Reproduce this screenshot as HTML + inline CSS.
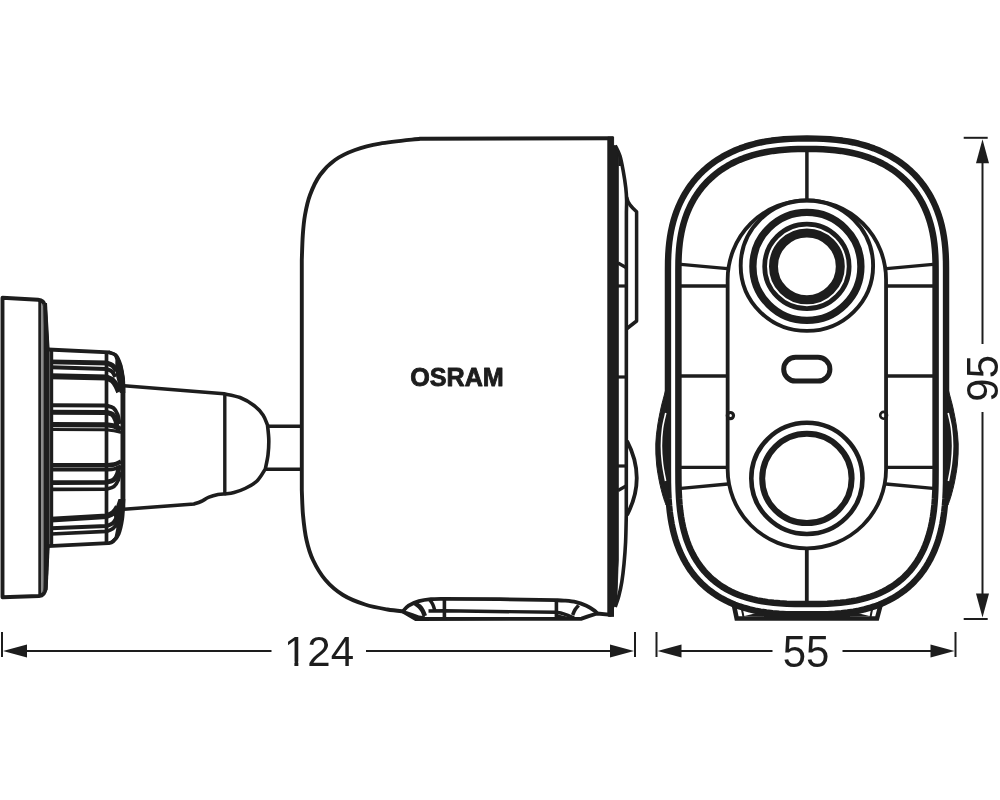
<!DOCTYPE html>
<html><head><meta charset="utf-8"><title>OSRAM camera dimensions</title>
<style>
html,body{margin:0;padding:0;background:#fff;}
body{width:1000px;height:800px;overflow:hidden;font-family:"Liberation Sans",sans-serif;}
svg{display:block;will-change:transform;}
</style></head><body>
<svg width="1000" height="800" viewBox="0 0 1000 800" stroke-linecap="butt">
<rect width="1000" height="800" fill="#fff"/>
<line x1="2" y1="632" x2="2" y2="657" stroke="#1d1d1d" stroke-width="2"/>
<line x1="635" y1="632" x2="635" y2="657" stroke="#1d1d1d" stroke-width="2"/>
<line x1="26" y1="651" x2="271.5" y2="651" stroke="#1d1d1d" stroke-width="2"/>
<line x1="366" y1="651" x2="612" y2="651" stroke="#1d1d1d" stroke-width="2"/>
<polygon points="3,651 27,644.5 27,657.5" fill="#1d1d1d"/>
<polygon points="634,651 610,644.5 610,657.5" fill="#1d1d1d"/>
<line x1="656.5" y1="632" x2="656.5" y2="657" stroke="#1d1d1d" stroke-width="2"/>
<line x1="955.5" y1="632" x2="955.5" y2="657" stroke="#1d1d1d" stroke-width="2"/>
<line x1="680" y1="651" x2="772.5" y2="651" stroke="#1d1d1d" stroke-width="2"/>
<line x1="842.5" y1="651" x2="932" y2="651" stroke="#1d1d1d" stroke-width="2"/>
<polygon points="657.5,651 681.5,644.5 681.5,657.5" fill="#1d1d1d"/>
<polygon points="954.5,651 930.5,644.5 930.5,657.5" fill="#1d1d1d"/>
<line x1="963.7" y1="137.8" x2="987.7" y2="137.8" stroke="#1d1d1d" stroke-width="2"/>
<line x1="963.7" y1="619" x2="987.7" y2="619" stroke="#1d1d1d" stroke-width="2"/>
<line x1="982.5" y1="162" x2="982.5" y2="344" stroke="#1d1d1d" stroke-width="2"/>
<line x1="982.5" y1="412" x2="982.5" y2="594" stroke="#1d1d1d" stroke-width="2"/>
<polygon points="982.5,139.2 976.0,163.2 989.0,163.2" fill="#1d1d1d"/>
<polygon points="982.5,617.4 976.0,593.6 989.0,593.6" fill="#1d1d1d"/>
<text transform="translate(319,666.3) scale(1,1.03)" font-size="42" text-anchor="middle" font-family="Liberation Sans, sans-serif" fill="#1d1d1d">124</text>
<rect x="285.5" y="661.6" width="8.9" height="6.2" fill="#fff"/><rect x="298.35" y="661.6" width="8.5" height="6.2" fill="#fff"/>
<text transform="translate(806,666.5) scale(1,1.035)" font-size="42" text-anchor="middle" font-family="Liberation Sans, sans-serif" fill="#1d1d1d">55</text>
<text transform="translate(997.8,378.3) rotate(-90) scale(1,1.04)" font-size="42" text-anchor="middle" font-family="Liberation Sans, sans-serif" fill="#1d1d1d">95</text>
<path d="M2.5,597.3 L2.5,297.8 L38,299.8 Q44,300.3 44.9,306 L47.2,349 L47.2,548 L45.6,588 Q45,595.5 39,596 Z" fill="none" stroke="#1d1d1d" stroke-width="3.9" stroke-linejoin="round"/>
<line x1="39.9" y1="300" x2="39.9" y2="596" stroke="#1d1d1d" stroke-width="3.2"/>
<path d="M43.4,303 L47,303 L49.6,349 L49.6,548 L47.6,590 L43.4,594 Z" fill="#1d1d1d" stroke="none" stroke-width="0" />
<line x1="42.9" y1="304" x2="42.9" y2="592" stroke="#4a4a4a" stroke-width="1.1"/>
<line x1="51.6" y1="350" x2="51.6" y2="547" stroke="#1d1d1d" stroke-width="3.2"/>
<line x1="50.1" y1="352" x2="50.1" y2="545" stroke="#2e2e2e" stroke-width="0.7"/>
<path d="M48,349.5 L108.8,352.3  C110.00,352.83 114.03,353.30 116.00,355.50 C117.97,357.70 119.43,361.58 120.60,365.50 C121.77,369.42 122.57,374.58 123.00,379.00 C123.43,383.42 123.17,389.83 123.20,392.00 L123.2,503  C123.03,505.67 122.97,513.83 122.20,519.00 C121.43,524.17 120.13,530.25 118.60,534.00 C117.07,537.75 114.77,539.97 113.00,541.50 C111.23,543.03 108.83,542.92 108.00,543.20 L48,546.2" fill="none" stroke="#1d1d1d" stroke-width="3.8" />
<line x1="122.9" y1="385" x2="122.9" y2="510" stroke="#1d1d1d" stroke-width="4.8"/>
<line x1="106.5" y1="353" x2="106.5" y2="543.5" stroke="#1d1d1d" stroke-width="3.7"/>
<path d="M108.8,350.6 L116.5,353.6 L122,364.5 L125,379 L125.3,393 L119.8,393 L118.4,385 L116.3,377 L115.2,368 L115.4,360 L114,355.5 L108.8,354.1 Z" fill="#1d1d1d" stroke="none" stroke-width="0" />
<path d="M118.5,499 L125.3,499 L124.6,509 L123.3,518 L121.3,529 L118.5,537 L113.5,543 L110,541.5 L114.5,537.5 L116.3,528.5 L113.8,515 L116,506.5 Z" fill="#1d1d1d" stroke="none" stroke-width="0" />
<path d="M51,361.8 L106.5,363.0 C107.50,363.42 110.83,364.17 112.50,365.50 C114.17,366.83 115.83,370.08 116.50,371.00" fill="none" stroke="#1d1d1d" stroke-width="4.8" stroke-linecap="butt"/>
<path d="M51,367.3 L106.5,369.0 C107.42,369.42 110.53,370.17 112.00,371.50 C113.47,372.83 114.75,376.08 115.30,377.00" fill="none" stroke="#1d1d1d" stroke-width="4.0" stroke-linecap="butt"/>
<path d="M51,376.2 L106.5,377.4 C107.50,377.92 110.83,379.07 112.50,380.50 C114.17,381.93 115.42,384.08 116.50,386.00 C117.58,387.92 118.58,391.00 119.00,392.00" fill="none" stroke="#1d1d1d" stroke-width="6.0" stroke-linecap="butt"/>
<path d="M51,405.3 L106.5,405.6 C107.67,406.00 111.67,406.52 113.50,408.00 C115.33,409.48 116.50,411.83 117.50,414.50 C118.50,417.17 119.17,422.42 119.50,424.00" fill="none" stroke="#1d1d1d" stroke-width="4.0" stroke-linecap="butt"/>
<path d="M51,412.2 L106.5,412.4 C107.50,412.75 110.95,413.15 112.50,414.50 C114.05,415.85 115.05,418.42 115.80,420.50 C116.55,422.58 116.80,425.92 117.00,427.00" fill="none" stroke="#1d1d1d" stroke-width="5.0" stroke-linecap="butt"/>
<path d="M51,424.6 L106.5,424.8 C107.75,425.00 111.58,425.22 114.00,426.00 C116.42,426.78 119.83,428.92 121.00,429.50" fill="none" stroke="#1d1d1d" stroke-width="5.2" stroke-linecap="butt"/>
<path d="M51,429.6 L106.5,429.8 C107.75,429.97 111.58,430.35 114.00,430.80 C116.42,431.25 119.83,432.22 121.00,432.50" fill="none" stroke="#1d1d1d" stroke-width="3.0" stroke-linecap="butt"/>
<path d="M51,465.2 L106.5,465.2 C107.75,465.08 111.58,465.12 114.00,464.50 C116.42,463.88 119.83,462.00 121.00,461.50" fill="none" stroke="#1d1d1d" stroke-width="4.4" stroke-linecap="butt"/>
<path d="M51,469.6 L106.5,469.6 C107.75,469.50 111.58,469.60 114.00,469.00 C116.42,468.40 119.83,466.50 121.00,466.00" fill="none" stroke="#1d1d1d" stroke-width="3.8" stroke-linecap="butt"/>
<path d="M51,482.6 L106.5,482.3 C107.67,481.92 111.67,481.38 113.50,480.00 C115.33,478.62 116.58,476.33 117.50,474.00 C118.42,471.67 118.75,467.33 119.00,466.00" fill="none" stroke="#1d1d1d" stroke-width="4.8" stroke-linecap="butt"/>
<path d="M51,489.4 L106.5,489.2 C107.75,488.75 112.03,488.03 114.00,486.50 C115.97,484.97 117.30,482.42 118.30,480.00 C119.30,477.58 119.72,473.33 120.00,472.00" fill="none" stroke="#1d1d1d" stroke-width="3.6" stroke-linecap="butt"/>
<path d="M51,519.6 L106.5,516.2 C107.58,515.67 111.17,514.53 113.00,513.00 C114.83,511.47 116.75,508.00 117.50,507.00" fill="none" stroke="#1d1d1d" stroke-width="5.6" stroke-linecap="butt"/>
<path d="M51,528.2 L106.5,526.0 C107.58,525.50 111.17,524.67 113.00,523.00 C114.83,521.33 116.75,517.17 117.50,516.00" fill="none" stroke="#1d1d1d" stroke-width="4.0" stroke-linecap="butt"/>
<path d="M51,534.0 L106.5,531.4 C107.58,530.92 111.17,529.98 113.00,528.50 C114.83,527.02 116.75,523.50 117.50,522.50" fill="none" stroke="#1d1d1d" stroke-width="3.6" stroke-linecap="butt"/>
<path d="M124,385.8 L224,393.8  C226.67,394.42 235.00,395.55 240.00,397.50 C245.00,399.45 250.17,402.58 254.00,405.50 C257.83,408.42 260.75,411.75 263.00,415.00 C265.25,418.25 266.75,423.33 267.50,425.00 C267.72,427.50 268.72,435.00 268.80,440.00 C268.88,445.00 268.58,450.17 268.00,455.00 C267.42,459.83 265.75,466.67 265.30,469.00 C263.92,471.00 260.38,477.75 257.00,481.00 C253.62,484.25 248.83,486.58 245.00,488.50 C241.17,490.42 237.37,491.58 234.00,492.50 C230.63,493.42 226.33,493.75 224.80,494.00 C223.67,494.10 220.63,494.07 218.00,494.60 C215.37,495.13 211.83,496.05 209.00,497.20 C206.17,498.35 203.50,500.37 201.00,501.50 C198.50,502.63 195.17,503.58 194.00,504.00 L124,509.2" fill="none" stroke="#1d1d1d" stroke-width="3.6" />
<line x1="224.8" y1="394" x2="224.8" y2="494" stroke="#1d1d1d" stroke-width="3.4"/>
<line x1="267" y1="426.3" x2="300.5" y2="426.3" stroke="#1d1d1d" stroke-width="3.5"/>
<line x1="265" y1="469.3" x2="300.5" y2="469.3" stroke="#1d1d1d" stroke-width="3.5"/>
<path d="M613.5,138.2 L420,138.8  C413.33,139.60 390.83,141.73 380.00,143.60 C369.17,145.47 362.50,147.27 355.00,150.00 C347.50,152.73 340.83,155.83 335.00,160.00 C329.17,164.17 324.17,169.17 320.00,175.00 C315.83,180.83 312.50,188.33 310.00,195.00 C307.50,201.67 306.20,208.33 305.00,215.00 C303.80,221.67 303.33,227.50 302.80,235.00 C302.27,242.50 301.97,255.83 301.80,260.00 L301.8,490  C302.00,494.17 302.22,506.67 303.00,515.00 C303.78,523.33 304.83,532.50 306.50,540.00 C308.17,547.50 309.83,553.33 313.00,560.00 C316.17,566.67 320.50,574.17 325.50,580.00 C330.50,585.83 336.42,590.92 343.00,595.00 C349.58,599.08 357.58,602.08 365.00,604.50 C372.42,606.92 380.83,608.33 387.50,609.50 C394.17,610.67 402.08,611.17 405.00,611.50" fill="none" stroke="#1d1d1d" stroke-width="3.9" />
<path d="M403.00,611.20 C403.93,610.27 405.93,607.27 408.60,605.60 C411.27,603.93 415.27,602.27 419.00,601.20 C422.73,600.13 427.00,599.60 431.00,599.20 C435.00,598.80 441.00,598.87 443.00,598.80 L500,599.2 L556,600.2 C557.33,600.27 560.67,600.27 564.00,600.60 C567.33,600.93 572.27,601.33 576.00,602.20 C579.73,603.07 583.33,604.40 586.40,605.80 C589.47,607.20 592.63,609.33 594.40,610.60 C596.17,611.87 596.57,612.93 597.00,613.40" fill="none" stroke="#1d1d1d" stroke-width="3.8" stroke-linejoin="round"/>
<path d="M403,611.6 L415.8,619 L581.6,618.7 L588,616.4 L597,613.5 L611.5,614.9" fill="none" stroke="#1d1d1d" stroke-width="3.9" stroke-linejoin="round"/>
<line x1="444.4" y1="599" x2="444.4" y2="618.5" stroke="#1d1d1d" stroke-width="3.6"/>
<line x1="556.4" y1="600" x2="556.4" y2="618.5" stroke="#1d1d1d" stroke-width="3.6"/>
<path d="M428.5,611 L444,610.8 L556,612.3  C557.17,612.52 560.83,613.02 563.00,613.60 C565.17,614.18 567.17,615.07 569.00,615.80 C570.83,616.53 573.17,617.63 574.00,618.00" fill="none" stroke="#1d1d1d" stroke-width="3.4" />
<path d="M556,614 L575,618.5 L556,618.5 Z" fill="#1d1d1d" stroke="none" stroke-width="0" />
<path d="M415.00,603.20 C415.75,603.75 418.20,605.20 419.50,606.50 C420.80,607.80 421.92,609.42 422.80,611.00 C423.68,612.58 424.47,615.17 424.80,616.00" fill="none" stroke="#1d1d1d" stroke-width="4.6" />
<path d="M429.60,599.60 C430.13,600.42 431.90,602.60 432.80,604.50 C433.70,606.40 434.63,609.92 435.00,611.00" fill="none" stroke="#1d1d1d" stroke-width="3.5" />
<path d="M578.60,605.40 C578.03,606.08 576.20,607.90 575.20,609.50 C574.20,611.10 573.03,614.08 572.60,615.00" fill="none" stroke="#1d1d1d" stroke-width="3.6" />
<path d="M403,611.5 L407,611.2 L413,613.2 L419,615.6 L425,616.2 L425,619.5 L415.8,619.5 Z" fill="#1d1d1d" stroke="none" stroke-width="0" />
<line x1="611.2" y1="600" x2="611.2" y2="616.8" stroke="#1d1d1d" stroke-width="5.6"/>
<path d="M607.8,137 L613.6,137 L613.6,145.5 L616,146 L618.3,152 L618.3,560 L616.8,600 L613.5,608 L613.5,616 L607.8,616 Z" fill="#1d1d1d" stroke="none" stroke-width="0" />
<path d="M607.8,137 L613.6,137 L613.6,145.5 L616,146 L618.3,152 L618.3,560 L616.8,600 L613.5,608 L613.5,616 L607.8,616 Z" fill="#1d1d1d" stroke="#1d1d1d" stroke-width="0.8" />
<path d="M615.20,145.50 C616.00,147.25 618.63,151.58 620.00,156.00 C621.37,160.42 622.43,166.67 623.40,172.00 C624.37,177.33 625.27,183.33 625.80,188.00 C626.33,192.67 626.50,196.00 626.60,200.00 C626.70,204.00 626.43,210.00 626.40,212.00 L626.3,515  C626.18,519.50 625.98,533.83 625.60,542.00 C625.22,550.17 624.63,557.33 624.00,564.00 C623.37,570.67 622.67,576.67 621.80,582.00 C620.93,587.33 619.90,591.83 618.80,596.00 C617.70,600.17 615.80,605.17 615.20,607.00" fill="none" stroke="#1d1d1d" stroke-width="3.6" />
<path d="M626.6,197 C628,204 632,207.5 636.6,211.8 L636.6,321 L627,328.5" fill="none" stroke="#1d1d1d" stroke-width="3.5" stroke-linejoin="round"/>
<path d="M613.6,146 L618.3,152 L618.3,166 L621,166 L619.5,156 L616,146 Z" fill="#1d1d1d" stroke="none" stroke-width="0" />
<line x1="618" y1="263" x2="626" y2="267.5" stroke="#1d1d1d" stroke-width="3.2"/>
<line x1="618" y1="286" x2="626" y2="286" stroke="#1d1d1d" stroke-width="3.2"/>
<line x1="618" y1="377" x2="626" y2="377" stroke="#1d1d1d" stroke-width="3.2"/>
<line x1="618" y1="466" x2="626" y2="466" stroke="#1d1d1d" stroke-width="3.2"/>
<line x1="618" y1="490.5" x2="626" y2="486" stroke="#1d1d1d" stroke-width="3.2"/>
<path d="M627,441 Q646.5,478 627,515" fill="none" stroke="#1d1d1d" stroke-width="3.8" />
<path d="M667.95,270.00 L668.03,261.17 L668.29,254.31 L668.72,248.04 L669.32,242.14 L670.10,236.51 L671.05,231.09 L672.19,225.85 L673.50,220.78 L674.99,215.87 L676.66,211.10 L678.51,206.47 L680.53,201.98 L682.74,197.64 L685.11,193.43 L687.66,189.36 L690.38,185.44 L693.27,181.65 L696.33,178.02 L699.55,174.54 L702.93,171.21 L706.47,168.03 L710.16,165.01 L714.00,162.14 L718.00,159.44 L722.14,156.90 L726.43,154.52 L730.86,152.31 L735.43,150.26 L740.14,148.37 L745.00,146.65 L750.01,145.10 L755.17,143.72 L760.50,142.49 L766.00,141.44 L771.69,140.55 L777.61,139.83 L783.82,139.26 L790.42,138.87 L797.65,138.63 L807.00,138.55 L816.35,138.63 L823.58,138.87 L830.18,139.26 L836.39,139.83 L842.31,140.55 L848.00,141.44 L853.50,142.49 L858.83,143.72 L863.99,145.10 L869.00,146.65 L873.86,148.37 L878.57,150.26 L883.14,152.31 L887.57,154.52 L891.86,156.90 L896.00,159.44 L900.00,162.14 L903.84,165.01 L907.53,168.03 L911.07,171.21 L914.45,174.54 L917.67,178.02 L920.73,181.65 L923.62,185.44 L926.34,189.36 L928.89,193.43 L931.26,197.64 L933.47,201.98 L935.49,206.47 L937.34,211.10 L939.01,215.87 L940.50,220.78 L941.81,225.85 L942.95,231.09 L943.90,236.51 L944.68,242.14 L945.28,248.04 L945.71,254.31 L945.97,261.17 L946.05,270.00 L946.05,470.00 L945.98,482.86 L945.75,491.44 L945.38,498.90 L944.85,505.72 L944.17,512.10 L943.33,518.13 L942.33,523.87 L941.18,529.38 L939.86,534.66 L938.38,539.75 L936.74,544.66 L934.93,549.39 L932.95,553.96 L930.81,558.36 L928.51,562.59 L926.04,566.67 L923.40,570.59 L920.59,574.35 L917.62,577.95 L914.49,581.38 L911.19,584.65 L907.73,587.75 L904.11,590.68 L900.33,593.44 L896.40,596.04 L892.30,598.45 L888.05,600.70 L883.64,602.77 L879.06,604.67 L874.31,606.40 L869.38,607.95 L864.27,609.34 L858.94,610.55 L853.39,611.60 L847.56,612.48 L841.40,613.20 L834.82,613.75 L827.62,614.14 L819.36,614.37 L807.00,614.45 L794.64,614.37 L786.38,614.14 L779.18,613.75 L772.60,613.20 L766.44,612.48 L760.61,611.60 L755.06,610.55 L749.73,609.34 L744.62,607.95 L739.69,606.40 L734.94,604.67 L730.36,602.77 L725.95,600.70 L721.70,598.45 L717.60,596.04 L713.67,593.44 L709.89,590.68 L706.27,587.75 L702.81,584.65 L699.51,581.38 L696.38,577.95 L693.41,574.35 L690.60,570.59 L687.96,566.67 L685.49,562.59 L683.19,558.36 L681.05,553.96 L679.07,549.39 L677.26,544.66 L675.62,539.75 L674.14,534.66 L672.82,529.38 L671.67,523.87 L670.67,518.13 L669.83,512.10 L669.15,505.72 L668.62,498.90 L668.25,491.44 L668.02,482.86 L667.95,470.00 Z" fill="none" stroke="#1d1d1d" stroke-width="6.4" stroke-linejoin="round"/>
<path d="M678.40,270.00 L678.48,261.39 L678.72,254.85 L679.13,248.93 L679.69,243.39 L680.42,238.13 L681.31,233.10 L682.36,228.27 L683.56,223.61 L684.93,219.11 L686.45,214.76 L688.13,210.56 L689.96,206.49 L691.95,202.57 L694.09,198.77 L696.39,195.11 L698.83,191.59 L701.42,188.19 L704.17,184.93 L707.06,181.81 L710.09,178.82 L713.27,175.96 L716.59,173.24 L720.05,170.66 L723.66,168.22 L727.41,165.92 L731.30,163.76 L735.33,161.75 L739.50,159.88 L743.82,158.15 L748.29,156.57 L752.91,155.14 L757.69,153.86 L762.65,152.72 L767.78,151.74 L773.13,150.90 L778.72,150.22 L784.60,149.69 L790.90,149.30 L797.85,149.08 L807.00,149.00 L816.15,149.08 L823.10,149.30 L829.40,149.69 L835.28,150.22 L840.87,150.90 L846.22,151.74 L851.35,152.72 L856.31,153.86 L861.09,155.14 L865.71,156.57 L870.18,158.15 L874.50,159.88 L878.67,161.75 L882.70,163.76 L886.59,165.92 L890.34,168.22 L893.95,170.66 L897.41,173.24 L900.73,175.96 L903.91,178.82 L906.94,181.81 L909.83,184.93 L912.58,188.19 L915.17,191.59 L917.61,195.11 L919.91,198.77 L922.05,202.57 L924.04,206.49 L925.87,210.56 L927.55,214.76 L929.07,219.11 L930.44,223.61 L931.64,228.27 L932.69,233.10 L933.58,238.13 L934.31,243.39 L934.87,248.93 L935.28,254.85 L935.52,261.39 L935.60,270.00 L935.60,470.00 L935.53,482.72 L935.31,491.05 L934.95,498.24 L934.45,504.77 L933.80,510.82 L933.01,516.52 L932.07,521.91 L930.99,527.04 L929.77,531.94 L928.40,536.64 L926.90,541.14 L925.25,545.45 L923.46,549.60 L921.52,553.57 L919.45,557.39 L917.23,561.05 L914.87,564.55 L912.37,567.90 L909.73,571.10 L906.95,574.15 L904.02,577.05 L900.95,579.80 L897.74,582.40 L894.38,584.86 L890.87,587.17 L887.21,589.33 L883.39,591.35 L879.41,593.21 L875.27,594.93 L870.95,596.50 L866.45,597.92 L861.74,599.20 L856.82,600.32 L851.64,601.30 L846.18,602.12 L840.37,602.80 L834.10,603.32 L827.20,603.70 L819.21,603.92 L807.00,604.00 L794.79,603.92 L786.80,603.70 L779.90,603.32 L773.63,602.80 L767.82,602.12 L762.36,601.30 L757.18,600.32 L752.26,599.20 L747.55,597.92 L743.05,596.50 L738.73,594.93 L734.59,593.21 L730.61,591.35 L726.79,589.33 L723.13,587.17 L719.62,584.86 L716.26,582.40 L713.05,579.80 L709.98,577.05 L707.05,574.15 L704.27,571.10 L701.63,567.90 L699.13,564.55 L696.77,561.05 L694.55,557.39 L692.48,553.57 L690.54,549.60 L688.75,545.45 L687.10,541.14 L685.60,536.64 L684.23,531.94 L683.01,527.04 L681.93,521.91 L680.99,516.52 L680.20,510.82 L679.55,504.77 L679.05,498.24 L678.69,491.05 L678.47,482.72 L678.40,470.00 Z" fill="none" stroke="#1d1d1d" stroke-width="6.5" stroke-linejoin="round"/>
<path d="M666.5,387  C666.18,388.17 665.52,390.50 664.60,394.00 C663.68,397.50 662.17,402.67 661.00,408.00 C659.83,413.33 658.47,420.00 657.60,426.00 C656.73,432.00 655.97,437.67 655.80,444.00 C655.63,450.33 655.98,457.67 656.60,464.00 C657.22,470.33 658.43,476.67 659.50,482.00 C660.57,487.33 661.92,492.17 663.00,496.00 C664.08,499.83 665.50,503.50 666.00,505.00 L668.5,505 Z" fill="#1d1d1d" stroke="#1d1d1d" stroke-width="1.0" /><path d="M665.80,413.00 C665.27,415.50 663.33,422.50 662.60,428.00 C661.87,433.50 661.40,440.00 661.40,446.00 C661.40,452.00 661.90,458.17 662.60,464.00 C663.30,469.83 665.10,478.17 665.60,481.00" fill="none" stroke="#fff" stroke-width="1.6"/>
<path d="M947.5,387  C947.82,388.17 948.48,390.50 949.40,394.00 C950.32,397.50 951.83,402.67 953.00,408.00 C954.17,413.33 955.53,420.00 956.40,426.00 C957.27,432.00 958.03,437.67 958.20,444.00 C958.37,450.33 958.02,457.67 957.40,464.00 C956.78,470.33 955.57,476.67 954.50,482.00 C953.43,487.33 952.08,492.17 951.00,496.00 C949.92,499.83 948.50,503.50 948.00,505.00 L945.5,505 Z" fill="#1d1d1d" stroke="#1d1d1d" stroke-width="1.0" /><path d="M948.20,413.00 C948.73,415.50 950.67,422.50 951.40,428.00 C952.13,433.50 952.60,440.00 952.60,446.00 C952.60,452.00 952.10,458.17 951.40,464.00 C950.70,469.83 948.90,478.17 948.40,481.00" fill="none" stroke="#fff" stroke-width="1.6"/>
<path d="M727.65,469.3 L727.65,279.4 A79.2,79.2 0 0 1 886.0500000000001,279.4 L886.0500000000001,469.3 A79.2,79.2 0 0 1 727.65,469.3 Z" fill="none" stroke="#1d1d1d" stroke-width="3.8" />
<ellipse cx="806.9" cy="265.7" rx="66.2" ry="65.2" fill="none" stroke="#1d1d1d" stroke-width="3.9"/>
<circle cx="806.9" cy="266.4" r="54.0" fill="none" stroke="#1d1d1d" stroke-width="7.3"/>
<circle cx="806.9" cy="266.4" r="42.25" fill="none" stroke="#1d1d1d" stroke-width="4.7"/>
<circle cx="806.9" cy="266.4" r="33.4" fill="none" stroke="#1d1d1d" stroke-width="9.0"/>
<rect x="783.7" y="357.3" width="46.2" height="23.8" rx="11.9" fill="none" stroke="#1d1d1d" stroke-width="5"/>
<circle cx="730.4" cy="415.6" r="3.1" fill="none" stroke="#1d1d1d" stroke-width="3.2"/>
<circle cx="883.6" cy="415.3" r="3.4" fill="none" stroke="#1d1d1d" stroke-width="2.6"/>
<circle cx="806.9" cy="478.4" r="55.6" fill="none" stroke="#1d1d1d" stroke-width="4.6"/>
<circle cx="806.9" cy="478.4" r="44.7" fill="none" stroke="#1d1d1d" stroke-width="6"/>
<line x1="806.9" y1="151" x2="806.9" y2="200" stroke="#1d1d1d" stroke-width="3.5"/>
<line x1="806.8" y1="549" x2="806.8" y2="602" stroke="#1d1d1d" stroke-width="3.8"/>
<line x1="681.0" y1="264.4" x2="727.5" y2="268.6" stroke="#1d1d1d" stroke-width="3.4"/>
<line x1="681.0" y1="286" x2="727.5" y2="286" stroke="#1d1d1d" stroke-width="3.4"/>
<line x1="681.0" y1="376" x2="727.5" y2="376" stroke="#1d1d1d" stroke-width="3.4"/>
<line x1="681.0" y1="467.4" x2="727.5" y2="467.4" stroke="#1d1d1d" stroke-width="3.4"/>
<line x1="681.0" y1="488.4" x2="728.0" y2="484" stroke="#1d1d1d" stroke-width="3.4"/>
<line x1="933.0" y1="264.4" x2="886.5" y2="268.6" stroke="#1d1d1d" stroke-width="3.4"/>
<line x1="933.0" y1="286" x2="886.5" y2="286" stroke="#1d1d1d" stroke-width="3.4"/>
<line x1="933.0" y1="376" x2="886.5" y2="376" stroke="#1d1d1d" stroke-width="3.4"/>
<line x1="933.0" y1="467.4" x2="886.5" y2="467.4" stroke="#1d1d1d" stroke-width="3.4"/>
<line x1="933.0" y1="488.4" x2="886.0" y2="484" stroke="#1d1d1d" stroke-width="3.4"/>
<path d="M733.9,605 L736.7,618.5 L877.0,618.5 L880.6,605" fill="none" stroke="#1d1d1d" stroke-width="4.6" stroke-linejoin="miter"/>
<path d="M764,611 L850,611 L850,618 L764,618 Z" fill="#1d1d1d" stroke="none" stroke-width="0" />
<path d="M741.5,607 L743.5,617" fill="none" stroke="#1d1d1d" stroke-width="2" />
<path d="M872.5,607 L870.5,617" fill="none" stroke="#1d1d1d" stroke-width="2" />
<path d="M764,611.2 L744.5,616 L764,616.4 Z M850,611.2 L869.5,616 L850,616.4 Z" fill="#1d1d1d" stroke="none" stroke-width="0" />
<text x="410.2" y="386.2" font-size="26.7" font-weight="bold" textLength="93.6" lengthAdjust="spacingAndGlyphs" stroke="#1d1d1d" stroke-width="0.9" stroke-linejoin="round" font-family="Liberation Sans, sans-serif" fill="#1d1d1d">OSRAM</text>
</svg>
</body></html>
